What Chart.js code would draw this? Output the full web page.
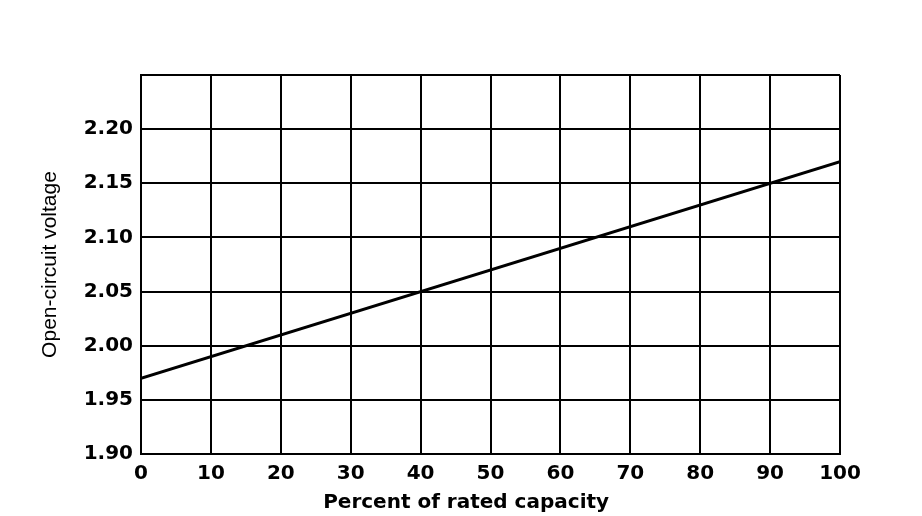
<!DOCTYPE html>
<html>
<head>
<meta charset="utf-8">
<script src="https://cdn.jsdelivr.net/npm/chart.js@4"></script>
<style>
  html, body { margin: 0; padding: 0; background: #fff; }
  #wrap { width: 922px; height: 516px; }
</style>
</head>
<body>
<div id="wrap"><canvas id="myChart" width="922" height="516"></canvas></div>
<script>
// 読み取った値
const capacity = [0, 100];          // Percent of rated capacity
const voltage = [1.97, 2.17];       // Open-circuit voltage
const xTicks = [0, 10, 20, 30, 40, 50, 60, 70, 80, 90, 100];
const yTicks = [1.90, 1.95, 2.00, 2.05, 2.10, 2.15, 2.20];

let points = capacity.map((c, i) => ({x: c, y: voltage[i]}));

let ctx = document.getElementById("myChart");
let myChart = new Chart(ctx, {
    type: 'line',
    data: {
        datasets: [{
            data: points,
            borderColor: '#000',
            borderWidth: 3,
            pointRadius: 0,
            fill: false,
            tension: 0
        }]
    },
    options: {
        responsive: false,
        animation: false,
        layout: {
            padding: {left: 0, right: 82, top: 75, bottom: 0}
        },
        plugins: {
            legend: {display: false},
            tooltip: {enabled: false}
        },
        scales: {
            x: {
                type: 'linear',
                min: xTicks[0],
                max: xTicks[xTicks.length - 1],
                afterBuildTicks: function(scale){
                    scale.ticks = xTicks.map(v => ({value: v}));
                },
                afterFit: function(scale){
                    scale.height = 62;
                },
                grid: {color: '#000', lineWidth: 2, drawTicks: false},
                border: {display: true, color: '#000', width: 2},
                ticks: {
                    color: '#000',
                    padding: 8,
                    maxRotation: 0,
                    font: {family: 'DejaVu Sans', size: 20, weight: 'bold'}
                },
                title: {
                    display: true,
                    // 末尾の空白で少し左に寄せる
                    text: 'Percent of rated capacity       ',
                    color: '#000',
                    padding: {top: 0, bottom: 1},
                    font: {family: 'DejaVu Sans', size: 20, weight: 'bold'}
                }
            },
            y: {
                min: 1.90,
                max: 2.25,
                afterBuildTicks: function(scale){
                    scale.ticks = yTicks.concat([2.25]).map(v => ({value: v}));
                },
                afterFit: function(scale){
                    scale.width = 141;
                },
                grid: {color: '#000', lineWidth: 2, drawTicks: false},
                border: {display: true, color: '#000', width: 2},
                ticks: {
                    color: '#000',
                    padding: 8,
                    font: {family: 'DejaVu Sans', size: 20, weight: 'bold'},
                    callback: function(value){
                        if (value > 2.24) return '';
                        return value.toFixed(2);
                    }
                },
                title: {
                    display: true,
                    text: 'Open-circuit voltage',
                    color: '#000',
                    padding: {top: 38, bottom: 0},
                    font: {family: 'Liberation Sans Narrow, Arial Narrow, sans-serif', size: 21}
                }
            }
        }
    }
});
</script>
</body>
</html>
